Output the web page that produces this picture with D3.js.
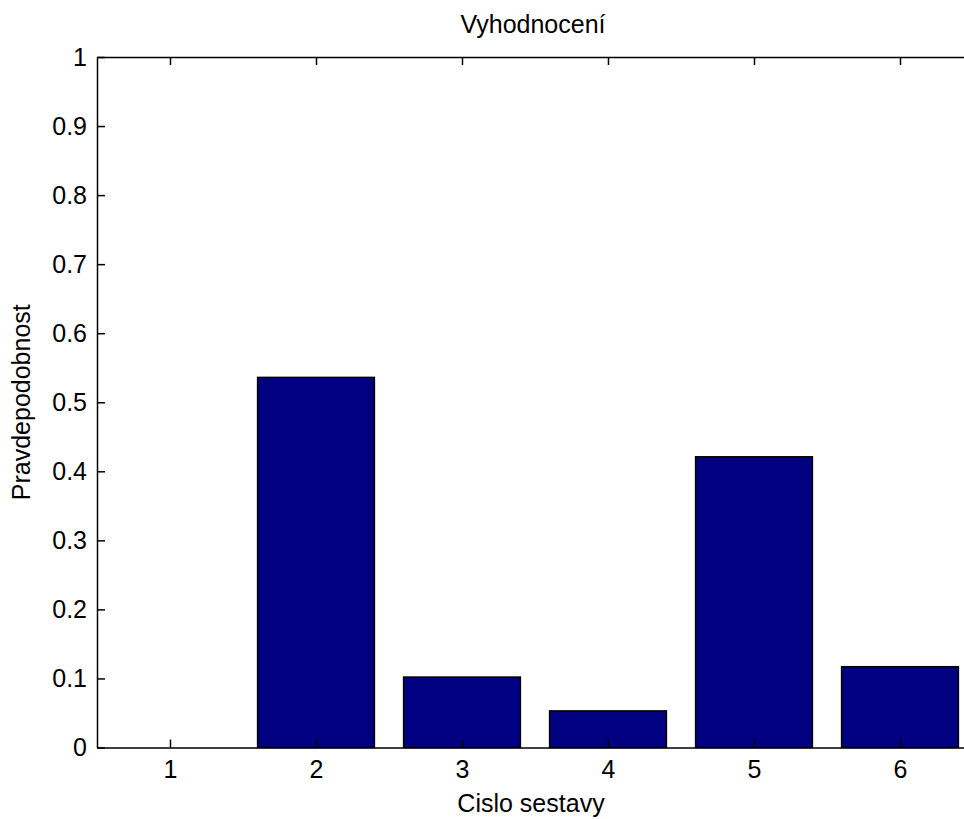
<!DOCTYPE html>
<html>
<head>
<meta charset="utf-8">
<script src="https://cdn.jsdelivr.net/npm/d3@7"></script>
<style>
  html, body { margin: 0; padding: 0; background: #fff; overflow: hidden; }
  svg text { font-family: "Liberation Sans", Arial, Helvetica, sans-serif; fill: #000; }
</style>
</head>
<body>
<svg id="chart" width="964" height="819"></svg>
<script>
const categories = [1, 2, 3, 4, 5, 6];
const values = [0, 0.536, 0.102, 0.053, 0.421, 0.117];
const yTicks = [0, 0.1, 0.2, 0.3, 0.4, 0.5, 0.6, 0.7, 0.8, 0.9, 1];
const yTickLabels = ["0", "0.1", "0.2", "0.3", "0.4", "0.5", "0.6", "0.7", "0.8", "0.9", "1"];
const title = "Vyhodnocení";
const xLabel = "Cislo sestavy";
const yLabel = "Pravdepodobnost";

(function () {
const svg = d3.select("#chart");
const mLeft = 97, mRight = 973, mTop = 57, mBottom = 747.5;
const fontSize = 25;

const x = d3.scaleLinear().domain([0.5, 6.5]).range([mLeft, mRight]);
const y = d3.scaleLinear().domain([0, 1]).range([mBottom, mTop]);
const barWidth = 0.8;

// bars
svg.append("g").selectAll("rect")
  .data(categories.map((c, i) => ({c, v: values[i]})))
  .join("rect")
  .attr("x", d => x(d.c - barWidth / 2))
  .attr("width", d => x(d.c + barWidth / 2) - x(d.c - barWidth / 2))
  .attr("y", d => y(d.v))
  .attr("height", d => y(0) - y(d.v))
  .attr("fill", "#000080")
  .attr("stroke", "#000")
  .attr("stroke-width", 1.5);

function styleAxis(g) {
  g.selectAll("path").attr("stroke", "#000").attr("stroke-width", 1.5);
  g.selectAll("line").attr("stroke", "#000").attr("stroke-width", 1.5);
  g.selectAll("text").attr("font-size", fontSize).attr("font-family", null);
}

// bottom
svg.append("g").attr("transform", `translate(0,${mBottom})`)
  .call(d3.axisBottom(x).tickValues(categories).tickFormat(d3.format("d"))
    .tickSizeInner(-8).tickSizeOuter(0).tickPadding(13))
  .call(styleAxis);
// top
svg.append("g").attr("transform", `translate(0,${mTop})`)
  .call(d3.axisTop(x).tickValues(categories).tickFormat("")
    .tickSizeInner(-8).tickSizeOuter(0))
  .call(styleAxis);
// left
svg.append("g").attr("transform", `translate(${mLeft},0)`)
  .call(d3.axisLeft(y).tickValues(yTicks).tickFormat((d, i) => yTickLabels[i])
    .tickSizeInner(-8).tickSizeOuter(0).tickPadding(10))
  .call(styleAxis);
// right
svg.append("g").attr("transform", `translate(${mRight},0)`)
  .call(d3.axisRight(y).tickValues(yTicks).tickFormat("")
    .tickSizeInner(-8).tickSizeOuter(0))
  .call(styleAxis);

// title
svg.append("text")
  .attr("x", (mLeft + mRight) / 2 - 2).attr("y", 33)
  .attr("text-anchor", "middle").attr("font-size", fontSize)
  .text(title);

// x label
svg.append("text")
  .attr("x", (mLeft + mRight) / 2 - 4).attr("y", 812)
  .attr("text-anchor", "middle").attr("font-size", fontSize)
  .text(xLabel);

// y label
svg.append("text")
  .attr("transform", `translate(30,${(mTop + mBottom) / 2}) rotate(-90)`)
  .attr("text-anchor", "middle").attr("font-size", fontSize)
  .text(yLabel);
})();
</script>
</body>
</html>
